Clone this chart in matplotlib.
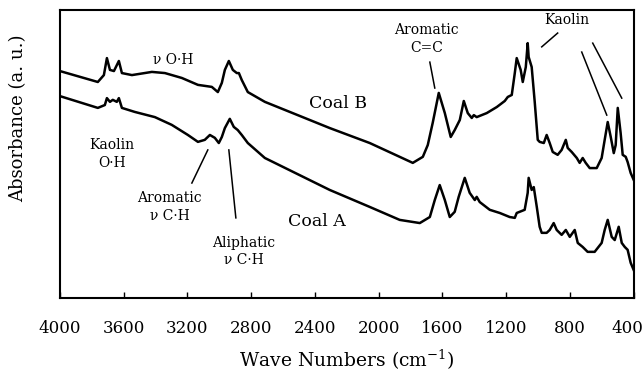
import numpy as np
import matplotlib.pyplot as plt
from matplotlib.transforms import ScaledTranslation

plt.rcParams['font.family'] = ['DejaVu Serif']

# Coal B spectrum (wavenumber in cm-1, absorbance in arbitrary units)
wn_b = [4000, 3762, 3724, 3705, 3686, 3661, 3630, 3611, 3548, 3423, 3341, 3235,
        3134, 3047, 3009, 2984, 2965, 2940, 2915, 2890, 2877, 2859, 2821, 2714,
        2307, 2056, 1868, 1786, 1723, 1692, 1661, 1623, 1585, 1548, 1523, 1491,
        1466, 1441, 1416, 1403, 1385, 1322, 1259, 1209, 1190, 1165, 1146, 1134,
        1109, 1096, 1077, 1065, 1059, 1040, 1021, 1002, 990, 964, 946, 927, 908,
        877, 852, 826, 814, 789, 757, 739, 720, 701, 676, 632, 601, 582, 563,
        544, 525, 513, 500, 482, 469, 450, 438, 419, 400]
abs_b = [0.788, 0.750, 0.774, 0.833, 0.792, 0.788, 0.823, 0.781, 0.774, 0.785,
         0.781, 0.764, 0.740, 0.733, 0.715, 0.747, 0.792, 0.823, 0.792, 0.781,
         0.781, 0.757, 0.715, 0.681, 0.590, 0.538, 0.490, 0.469, 0.490, 0.531,
         0.608, 0.712, 0.642, 0.559, 0.583, 0.618, 0.684, 0.642, 0.625, 0.635,
         0.628, 0.642, 0.663, 0.684, 0.698, 0.705, 0.781, 0.833, 0.792, 0.750,
         0.802, 0.885, 0.837, 0.802, 0.681, 0.549, 0.542, 0.538, 0.566, 0.538,
         0.507, 0.497, 0.514, 0.549, 0.521, 0.507, 0.486, 0.469, 0.486, 0.469,
         0.451, 0.451, 0.486, 0.549, 0.611, 0.559, 0.503, 0.531, 0.660, 0.573,
         0.497, 0.490, 0.472, 0.434, 0.410]

# Coal A spectrum
wn_a = [4000, 3762, 3718, 3705, 3686, 3668, 3643, 3630, 3611, 3530, 3404, 3298,
        3197, 3134, 3091, 3059, 3028, 3003, 2984, 2965, 2934, 2909, 2884, 2859,
        2821, 2714, 2307, 2056, 1868, 1742, 1679, 1648, 1617, 1585, 1554, 1523,
        1498, 1460, 1429, 1397, 1385, 1366, 1303, 1240, 1178, 1146, 1134, 1084,
        1065, 1059, 1040, 1027, 1008, 990, 977, 946, 927, 902, 883, 852, 826,
        801, 770, 751, 720, 689, 645, 601, 582, 563, 538, 519, 494, 475, 456,
        438, 419, 400]
abs_a = [0.701, 0.660, 0.670, 0.694, 0.681, 0.688, 0.681, 0.694, 0.660, 0.646,
         0.628, 0.601, 0.566, 0.542, 0.549, 0.566, 0.556, 0.538, 0.559, 0.590,
         0.622, 0.594, 0.583, 0.566, 0.538, 0.486, 0.375, 0.316, 0.271, 0.260,
         0.281, 0.340, 0.392, 0.340, 0.281, 0.299, 0.351, 0.417, 0.365, 0.340,
         0.351, 0.333, 0.306, 0.295, 0.281, 0.278, 0.295, 0.306, 0.365, 0.417,
         0.375, 0.385, 0.316, 0.247, 0.226, 0.226, 0.236, 0.260, 0.236, 0.219,
         0.236, 0.212, 0.236, 0.191, 0.177, 0.160, 0.160, 0.191, 0.236, 0.271,
         0.212, 0.201, 0.247, 0.191, 0.177, 0.167, 0.122, 0.097]

xticks = [4000, 3600, 3200, 2800, 2400, 2000, 1600, 1200, 800, 400]

fig = plt.figure(figsize=(6.44, 3.71), dpi=100)
ax = fig.add_axes([0.093, 0.197, 0.891, 0.776])

ax.plot(wn_b, abs_b, color='black', lw=1.8)
ax.plot(wn_a, abs_a, color='black', lw=1.8)

ax.set_xlim(4000, 400)
ax.set_ylim(0, 1)
ax.set_xticks(xticks)
ax.set_yticks([])
ax.tick_params(axis='x', direction='in', length=4, width=1, labelsize=12, pad=16)
for s in ax.spines.values():
    s.set_linewidth(1.5)

# keep the last tick label inside the figure
last = ax.get_xticklabels()[-1]
last.set_transform(last.get_transform() + ScaledTranslation(-6 / 100, 0, fig.dpi_scale_trans))

ax.set_xlabel('Wave Numbers (cm$^{\\mathregular{-1}}$)', fontsize=13.5, labelpad=7)
fig.text(18 / 644, 1 - 118 / 371, 'Absorbance (a. u.)', fontsize=13,
         rotation=90, ha='center', va='center')

# curve names
ax.text(2256, 0.674, 'Coal B', fontsize=12.5, ha='center', va='center')
ax.text(2388, 0.264, 'Coal A', fontsize=12.5, ha='center', va='center')

# band assignments
small = dict(fontsize=10, ha='center', va='center', linespacing=1.3)
ax.text(3291, 0.826, '\u03bd O\u00b7H', **small)
ax.text(3674, 0.50, 'Kaolin\nO\u00b7H', **small)
ax.text(3310, 0.316, 'Aromatic\n\u03bd C\u00b7H', **small)
ax.text(2846, 0.160, 'Aliphatic\n\u03bd C\u00b7H', **small)
ax.text(1698, 0.899, 'Aromatic\nC=C', **small)
ax.text(820, 0.965, 'Kaolin', **small)

leaders = [((3072, 0.514), (3172, 0.399)),
           ((2940, 0.514), (2896, 0.278)),
           ((1679, 0.819), (1648, 0.729)),
           ((977, 0.872), (877, 0.920)),
           ((726, 0.854), (569, 0.635)),
           ((657, 0.885), (475, 0.694))]
for (x0, y0), (x1, y1) in leaders:
    ax.plot([x0, x1], [y0, y1], color='black', lw=1.1)

fig.savefig('out.png', dpi=100)
